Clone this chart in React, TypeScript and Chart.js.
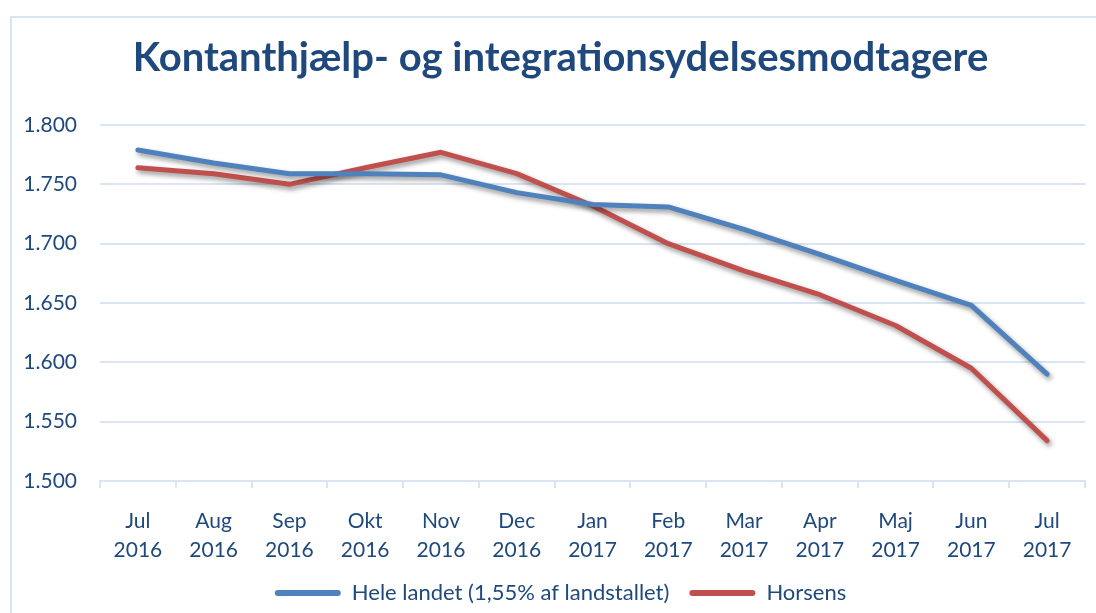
import React, { useEffect, useRef } from "react";
import { Chart, registerables } from "chart.js";

Chart.register(...registerables);

const categories: string[][] = [
  ["Jul", "2016"], ["Aug", "2016"], ["Sep", "2016"], ["Okt", "2016"], ["Nov", "2016"], ["Dec", "2016"],
  ["Jan", "2017"], ["Feb", "2017"], ["Mar", "2017"], ["Apr", "2017"], ["Maj", "2017"], ["Jun", "2017"], ["Jul", "2017"],
];
const heleLandet: number[] = [1779, 1768, 1759, 1759, 1758, 1743, 1733, 1731, 1712, 1691, 1669, 1648, 1590];
const horsens: number[] = [1764, 1759, 1750, 1764, 1777, 1759, 1732, 1700, 1677, 1657, 1631, 1595, 1534];
const seriesNames: string[] = ["Hele landet (1,55% af landstallet)", "Horsens"];
const titleText = "Kontanthjælp- og integrationsydelsesmodtagere";

const TXT = "#1F497D";
const GRID = "#d9e4f5";
const FONT = "Lato";

const shadowPlugin = {
  id: "lineShadow",
  beforeDatasetsDraw(chart: any) {
    const ctx = chart.ctx;
    ctx.save();
    ctx.shadowColor = "rgba(0,0,0,0.42)";
    ctx.shadowBlur = 5;
    ctx.shadowOffsetX = 2;
    ctx.shadowOffsetY = 3;
  },
  afterDatasetsDraw(chart: any) {
    chart.ctx.restore();
  },
};

const framePlugin = {
  id: "frame",
  beforeDraw(chart: any) {
    const ctx = chart.ctx;
    ctx.save();
    ctx.strokeStyle = GRID;
    ctx.lineWidth = 2;
    ctx.beginPath();
    ctx.moveTo(11, chart.height + 5);
    ctx.lineTo(11, 17);
    ctx.lineTo(chart.width + 5, 17);
    ctx.stroke();
    ctx.restore();
  },
};

// title and legend are centred a little right of the canvas centre in the original
const centreShiftPlugin = {
  id: "centreShift",
  afterLayout(chart: any) {
    const shift = 13;
    for (const box of [chart.titleBlock, chart.legend]) {
      if (box) {
        box.left += shift;
        box.right += shift;
      }
    }
  },
};

export default function App() {
  const ref = useRef<HTMLCanvasElement>(null);
  useEffect(() => {
    if (!ref.current) return;
    const chart = new Chart(ref.current, {
      type: "line",
      data: {
        labels: categories,
        datasets: [
          {
            label: seriesNames[0],
            data: heleLandet,
            borderColor: "#4F81BD",
            backgroundColor: "#4F81BD",
            borderWidth: 5,
            pointRadius: 0,
            tension: 0,
            borderCapStyle: "round",
            borderJoinStyle: "round",
          },
          {
            label: seriesNames[1],
            data: horsens,
            borderColor: "#C0504D",
            backgroundColor: "#C0504D",
            borderWidth: 5,
            pointRadius: 0,
            tension: 0,
            borderCapStyle: "round",
            borderJoinStyle: "round",
          },
        ],
      },
      options: {
        responsive: false,
        animation: false,
        layout: { padding: { left: 10, right: 11, top: 0, bottom: 0 } },
        plugins: {
          tooltip: { enabled: false },
          title: {
            display: true,
            text: titleText,
            color: TXT,
            font: { family: FONT, size: 40, weight: "bold" },
            padding: { top: 34, bottom: 43 },
          },
          legend: {
            position: "bottom",
            labels: {
              color: TXT,
              font: { family: FONT, size: 22 },
              boxWidth: 66,
              boxHeight: 6,
              padding: 20,
              generateLabels(chart: any) {
                const items = Chart.defaults.plugins.legend.labels.generateLabels(chart);
                return items.map((it: any) => ({ ...it, lineWidth: 0, borderRadius: 3 }));
              },
            },
          },
        },
        scales: {
          x: {
            offset: true,
            afterFit(scale: any) {
              scale.height = 81;
            },
            grid: {
              offset: true,
              drawOnChartArea: false,
              drawTicks: true,
              tickLength: 7,
              color: GRID,
              lineWidth: 2,
            },
            border: { display: true, color: GRID, width: 2 },
            ticks: {
              color: TXT,
              font: { family: FONT, size: 21, lineHeight: 1.38 },
              maxRotation: 0,
              autoSkip: false,
              padding: 19,
            },
          },
          y: {
            min: 1500,
            max: 1800,
            afterFit(scale: any) {
              scale.width = 90;
            },
            grid: { color: GRID, lineWidth: 2, drawTicks: false },
            border: { display: false },
            ticks: {
              stepSize: 50,
              color: TXT,
              font: { family: FONT, size: 21 },
              padding: 23,
              callback: (v: any) => (Number(v) / 1000).toFixed(3),
            },
          },
        },
      },
      plugins: [framePlugin, shadowPlugin, centreShiftPlugin],
    });
    return () => chart.destroy();
  }, []);
  return (
    <div style={{ position: "absolute", left: 0, top: 0, width: 1096, height: 613, overflow: "hidden", background: "#fff" }}>
      <canvas ref={ref} width={1096} height={614} style={{ display: "block" }} />
    </div>
  );
}
